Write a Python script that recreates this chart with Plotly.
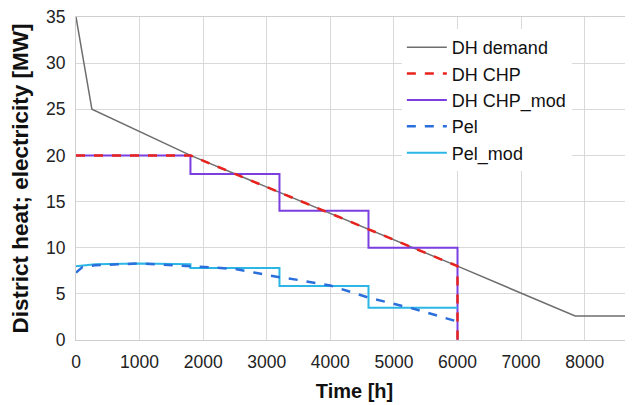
import plotly.graph_objects as go

# DH demand (duration curve)
demand_t = [0, 250, 1800, 6000, 7850, 8760]
demand_mw = [35, 25, 20, 8, 2.6, 2.6]

# DH CHP follows demand, capped at 20 MW, off after 6000 h
chp_t = [0, 1800, 6000, 6000]
chp_mw = [20, 20, 8, 0]

# DH CHP_mod, stepped operation
chp_mod_t = [0, 1800, 1800, 3200, 3200, 4600, 4600, 6000, 6000]
chp_mod_mw = [20, 20, 18, 18, 14, 14, 10, 10, 0]

# Pel
pel_t = [0, 100, 300, 1000, 1800, 2500, 3200, 3500, 4000, 4600, 5300, 6000]
pel_mw = [7.3, 7.9, 8.1, 8.3, 8.0, 7.7, 6.8, 6.5, 5.9, 4.6, 3.4, 2.0]

# Pel_mod
pel_mod_t = [0, 300, 1000, 1800, 1800, 3200, 3200, 4600, 4600, 6000]
pel_mod_mw = [8.0, 8.2, 8.3, 8.2, 7.8, 7.8, 5.85, 5.85, 3.5, 3.5]

x_ticks = [0, 1000, 2000, 3000, 4000, 5000, 6000, 7000, 8000]
y_ticks = [0, 5, 10, 15, 20, 25, 30, 35]

fig = go.Figure()
fig.add_trace(go.Scatter(x=demand_t, y=demand_mw, mode='lines', name='DH demand',
                         line=dict(color='#6e6e6e', width=1.5)))
fig.add_trace(go.Scatter(x=chp_mod_t, y=chp_mod_mw, mode='lines', name='DH CHP_mod',
                         line=dict(color='#7b3fe0', width=2)))
fig.add_trace(go.Scatter(x=chp_t, y=chp_mw, mode='lines', name='DH CHP',
                         line=dict(color='#e8231d', width=2.5, dash='dash')))
fig.add_trace(go.Scatter(x=pel_mod_t, y=pel_mod_mw, mode='lines', name='Pel_mod',
                         line=dict(color='#2bb6e6', width=2)))
fig.add_trace(go.Scatter(x=pel_t, y=pel_mw, mode='lines', name='Pel',
                         line=dict(color='#2a6fdb', width=2.5, dash='dash')))

# legend order as in the original
order = {'DH demand': 1, 'DH CHP': 2, 'DH CHP_mod': 3, 'Pel': 4, 'Pel_mod': 5}
for tr in fig.data:
    tr.legendrank = order[tr.name]

# page body has an 8px margin, so the figure is a bit smaller than the window
fig.update_layout(
    width=625, height=397,
    margin=dict(l=68, r=0, t=9, b=65),
    plot_bgcolor='white', paper_bgcolor='white',
    font=dict(family='Liberation Sans, Arial, sans-serif', size=17.5, color='#222'),
    legend=dict(x=0.585, y=0.963, xanchor='left', yanchor='top',
                bgcolor='white', font=dict(size=18, color='#111'),
                tracegroupgap=0, itemwidth=40),
    showlegend=True,
)
fig.update_xaxes(range=[0, 8760], tickvals=x_ticks, showgrid=True, gridcolor='#d9d9d9',
                 zeroline=False, showline=True, linecolor='#cfcfcf', mirror=True, ticks='',
                 automargin=False, ticklabelstandoff=6,
                 title=dict(text='<b>Time [h]</b>', font=dict(size=20, color='#111'),
                            standoff=12))
fig.update_yaxes(range=[0, 35], tickvals=y_ticks, showgrid=True, gridcolor='#d9d9d9',
                 zeroline=False, showline=True, linecolor='#cfcfcf', ticks='',
                 automargin=False, ticklabelstandoff=6, ticklabeloverflow='allow',
                 title=dict(text='<b>District heat; electricity [MW]</b>',
                            font=dict(size=22.5, color='#111')))

fig.write_html("out.html")
